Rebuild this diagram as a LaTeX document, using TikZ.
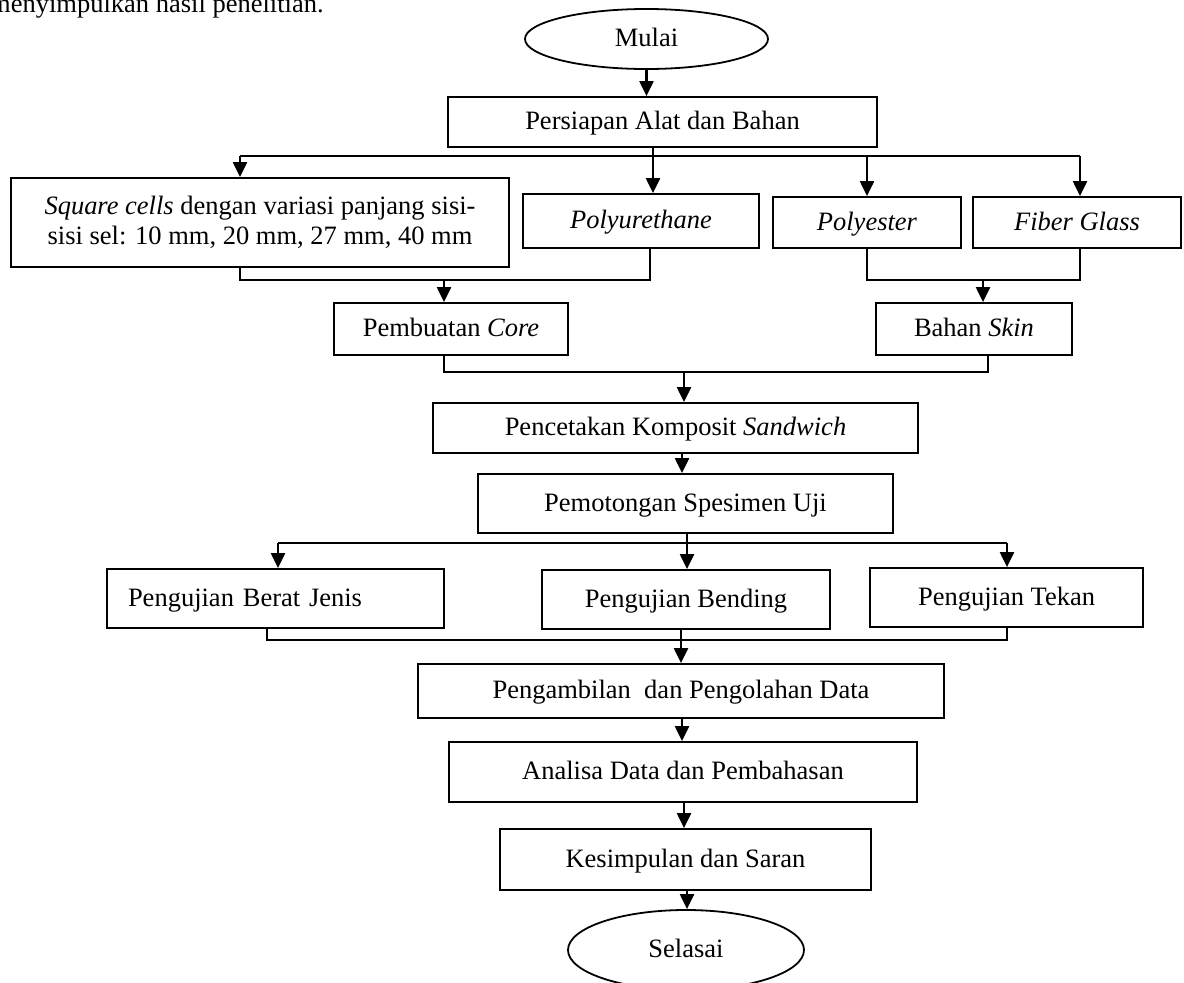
\documentclass[tikz,border=0pt]{standalone}
\usepackage{fontspec}
\setmainfont{Liberation Serif}
\usetikzlibrary{arrows.meta,shapes.geometric}
\begin{document}
\begin{tikzpicture}[x=1pt,y=-1pt,
  every node/.style={font=\fontsize{26.5}{30}\selectfont},
  box/.style={draw, line width=1.8pt, rectangle, inner sep=0pt, align=center},
  oneline/.style={text height=19pt, text depth=4pt},
  oval/.style={draw, line width=1.8pt, ellipse, inner sep=0pt, text height=19pt, text depth=4pt},
  arr/.style={line width=2.2pt, -{Triangle[width=14pt,length=15pt]}},
  branch/.style={line width=2pt},
  link/.style={line width=1.5pt},
]
\useasboundingbox (0,0) rectangle (1184,983);

% cropped caption text at the top
\node[anchor=base west, inner sep=0pt] (cap) at (-10,12) {menyimpulkan hasil penelitian.};

% nodes
\node[oval, minimum width=243, minimum height=60] (mulai) at (646.5,39) {Mulai};
\node[box, oneline, minimum width=429, minimum height=50] (prep) at (662.5,122) {Persiapan Alat dan Bahan};
\node[box, minimum width=498, minimum height=89] (sq) at (260,222.5) {\textit{Square cells} dengan variasi panjang sisi-\\sisi sel: 10 mm, 20 mm, 27 mm, 40 mm};
\node[box, oneline, minimum width=236, minimum height=54] (polyu) at (641,221) {\textit{Polyurethane}};
\node[box, oneline, minimum width=188, minimum height=51] (poly) at (867,222.5) {\textit{Polyester}};
\node[box, oneline, minimum width=208, minimum height=51] (fiber) at (1077,222.5) {\textit{Fiber Glass}};
\node[box, oneline, minimum width=234, minimum height=52] (core) at (451,329) {Pembuatan \textit{Core}};
\node[box, oneline, minimum width=196, minimum height=52] (skin) at (974,329) {Bahan \textit{Skin}};
\node[box, oneline, minimum width=485, minimum height=50] (cetak) at (675.5,428) {Pencetakan Komposit \textit{Sandwich}};
\node[box, oneline, minimum width=415, minimum height=59] (potong) at (685.5,503.5) {Pemotongan Spesimen Uji};
\node[box, oneline, minimum height=59, text width=295, inner xsep=21pt, align=left] (berat) at (275.5,598.5) {Pengujian Berat Jenis};
\node[box, oneline, minimum width=288, minimum height=59] (bending) at (686,599.5) {Pengujian Bending};
\node[box, oneline, minimum width=273, minimum height=59] (tekan) at (1006.5,597.5) {Pengujian Tekan};
\node[box, oneline, minimum width=526, minimum height=54] (ambil) at (681,691) {Pengambilan~ dan Pengolahan Data};
\node[box, oneline, minimum width=468, minimum height=60] (analisa) at (683,772) {Analisa Data dan Pembahasan};
\node[box, oneline, minimum width=371, minimum height=61] (simpul) at (685.5,859.5) {Kesimpulan dan Saran};
\node[oval, minimum width=236, minimum height=80] (selesai) at (686,950) {Selasai};

% Mulai -> Persiapan
\draw[arr] (mulai.south) -- (mulai.south |- prep.north);

% first branching
\coordinate (bL) at (240,156);
\coordinate (bR) at (1080,156);
\coordinate (bPy) at (867,156);
\coordinate (pStem) at (653,147);
\draw[branch] (bL) -- (bR);
\draw[arr] (bL) -- (bL |- sq.north);
\draw[arr] (pStem) -- (pStem |- polyu.north);
\draw[arr] (bPy) -- (bPy |- poly.north);
\draw[arr] (bR) -- (bR |- fiber.north);

% merge into core
\coordinate (mL1) at (240,280);
\coordinate (mL2) at (650,280);
\coordinate (mLa) at (444,280);
\draw[link] (mL1 |- sq.south) -- (mL1) -- (mL2) -- (mL2 |- polyu.south);
\draw[arr] (mLa) -- (mLa |- core.north);

% merge into skin
\coordinate (mR1) at (867,280);
\coordinate (mR2) at (1080,280);
\coordinate (mRa) at (983,280);
\draw[link] (mR1 |- poly.south) -- (mR1) -- (mR2) -- (mR2 |- fiber.south);
\draw[arr] (mRa) -- (mRa |- skin.north);

% merge core + skin
\coordinate (m3L) at (444,372);
\coordinate (m3R) at (988,372);
\coordinate (m3a) at (684,372);
\draw[link] (m3L |- core.south) -- (m3L) -- (m3R) -- (m3R |- skin.south);
\draw[arr] (m3a) -- (m3a |- cetak.north);

% cetak -> potong
\coordinate (a4) at (682,453);
\draw[arr] (a4) -- (a4 |- potong.north);

% second branching
\coordinate (a5) at (687,533);
\coordinate (b2L) at (278,543);
\coordinate (b2R) at (1007,543);
\draw[branch] (b2L) -- (b2R);
\draw[arr] (a5) -- (a5 |- bending.north);
\draw[arr] (b2L) -- (b2L |- berat.north);
\draw[arr] (b2R) -- (b2R |- tekan.north);

% merge tests
\coordinate (m4L) at (267,640);
\coordinate (m4R) at (1007,640);
\coordinate (a6) at (681,629);
\draw[link] (m4L |- berat.south) -- (m4L) -- (m4R) -- (m4R |- tekan.south);
\draw[arr] (a6) -- (a6 |- ambil.north);

% rest of chain
\coordinate (a7) at (682,718);
\coordinate (a8) at (684,802);
\coordinate (a9) at (687,890);
\draw[arr] (a7) -- (a7 |- analisa.north);
\draw[arr] (a8) -- (a8 |- simpul.north);
\draw[arr] (a9) -- (a9 |- selesai.north);
\end{tikzpicture}
\end{document}
